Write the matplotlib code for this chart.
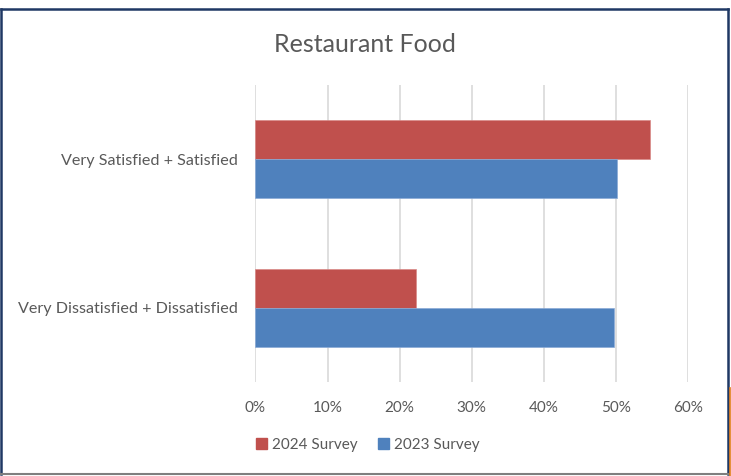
import matplotlib.pyplot as plt
from matplotlib.patches import Rectangle
from matplotlib.lines import Line2D

categories = ['Very Satisfied + Satisfied', 'Very Dissatisfied + Dissatisfied']
survey_2024 = [0.547, 0.223]
survey_2023 = [0.502, 0.498]
series_names = ['2024 Survey', '2023 Survey']
x_ticks = [0, 0.1, 0.2, 0.3, 0.4, 0.5, 0.6]
x_tick_labels = ['0%', '10%', '20%', '30%', '40%', '50%', '60%']

RED = '#C0504D'
BLUE = '#4F81BD'
TEXT = '#595959'

plt.rcParams['font.family'] = ['Lato', 'DejaVu Sans']

fig = plt.figure(figsize=(7.31, 4.76), dpi=100)
W, H = 731, 476

# plot area in pixel terms
ax = fig.add_axes([255.5 / W, 1 - 382 / H, (688 - 255.5) / W, (382 - 85) / H])

ypos = [1, 0]
bar_h = 0.263
ax.barh([y + bar_h / 2 for y in ypos], survey_2024, height=bar_h, color=RED,
        edgecolor='#D98A88', linewidth=0.5, label=series_names[0], zorder=3)
ax.barh([y - bar_h / 2 for y in ypos], survey_2023, height=bar_h, color=BLUE,
        edgecolor='#8AAAD6', linewidth=0.5, label=series_names[1], zorder=3)

ax.set_xlim(0, 0.6)
ax.set_ylim(-0.5, 1.5)
ax.set_xticks(x_ticks)
ax.set_xticklabels(x_tick_labels)
ax.set_yticks(ypos)
ax.set_yticklabels(categories, fontsize=11.6)
ax.grid(axis='x', color='#D9D9D9', linewidth=1.2, zorder=0)
for s in ax.spines.values():
    s.set_visible(False)
ax.tick_params(axis='both', length=0, colors=TEXT)
ax.tick_params(axis='x', pad=13.5, labelsize=11)
ax.tick_params(axis='y', pad=12.5)

fig.text(365 / W, 1 - 44 / H, 'Restaurant Food', ha='center', va='center',
         fontsize=18, color=TEXT)

handles = [Rectangle((0, 0), 1, 1, color=RED), Rectangle((0, 0), 1, 1, color=BLUE)]
fig.legend(handles, series_names, loc='center', bbox_to_anchor=(368 / W, 1 - 445 / H),
           ncol=2, frameon=False, fontsize=11, labelcolor=TEXT,
           handlelength=0.7, handleheight=0.7, handletextpad=0.35, columnspacing=1.3)

# chart border
def px_line(x0, y0, x1, y1, color, lw):
    fig.add_artist(Line2D([x0 / W, x1 / W], [1 - y0 / H, 1 - y1 / H],
                          color=color, linewidth=lw, transform=fig.transFigure))

px_line(1, 9, 728, 9, '#1F3864', 1.8)
px_line(1, 9, 1, 474, '#1F3864', 1.8)
px_line(727.5, 9, 727.5, 474, '#1F3864', 1.8)
px_line(1, 474, 728, 474, '#7F7F7F', 1.5)
px_line(730, 388, 730, 476, '#E07B17', 1.2)

fig.savefig('out.png', dpi=100)
